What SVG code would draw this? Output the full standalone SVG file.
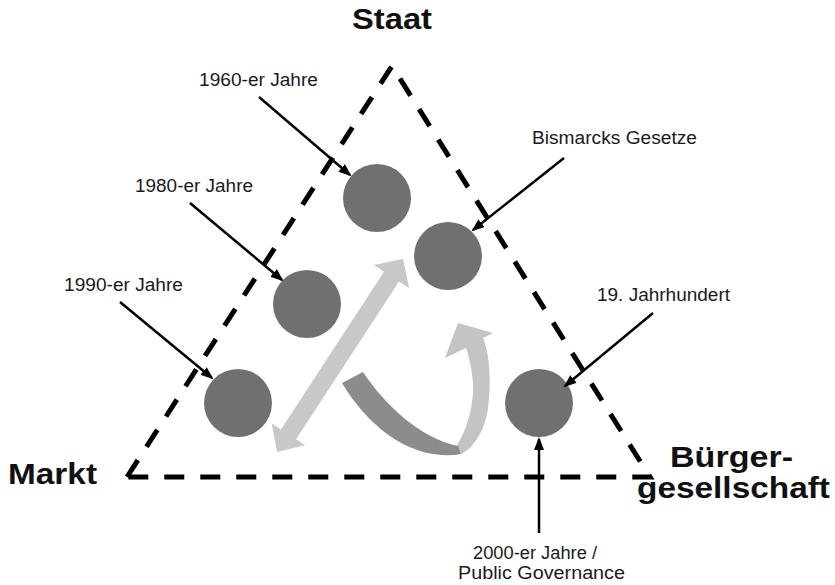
<svg xmlns="http://www.w3.org/2000/svg" width="835" height="585" viewBox="0 0 835 585">
<style>
.lbl{font-family:"Liberation Sans",Arial,sans-serif;font-size:17.5px;fill:#1a1a1a}
.big{font-family:"Liberation Sans",Arial,sans-serif;font-size:29px;font-weight:bold;fill:#111}
.dot{fill:#707070}
.lead{stroke:#000;stroke-width:2.5;fill:none;marker-end:url(#ah)}
.tri{stroke:#000;stroke-width:5;fill:none;stroke-dasharray:20 16}
</style>
<defs>
<marker id="ah" markerUnits="userSpaceOnUse" markerWidth="13" markerHeight="10" refX="11" refY="5" orient="auto">
<path d="M0,0 L13,5 L0,10 z" fill="#000"/>
</marker>
</defs>
<rect width="835" height="585" fill="#fff"/>
<g id="triangle">
<path class="tri" d="M127,477 L392,66 L650,477 Z"/>
</g>
<g id="arrows">
<polygon fill="#c8c8c8" transform="translate(277,452) rotate(-56.86)" points="0,0 21,-20 21,-9 209.5,-9 209.5,-21 230.5,0 209.5,21 209.5,9 21,9 21,20"/>
<path fill="#c4c4c4" d="M457,445 C467,430 474,405 473,383 C472,370 469,357 466,348 L445,358 L458,323 L493,333 L483,338 C489,352 492,380 488,408 C485,430 474,448 461,454 Z"/>
<path fill="#8c8c8c" d="M342,383 L363,372 C385,405 420,438 458,446 L461,454 C415,462 370,430 342,383 Z"/>
</g>
<g id="axis-labels">
<text class="big" x="352" y="29" textLength="80" lengthAdjust="spacingAndGlyphs">Staat</text>
<text class="big" x="8" y="484" textLength="89" lengthAdjust="spacingAndGlyphs">Markt</text>
<text class="big" x="670" y="467" textLength="123" lengthAdjust="spacingAndGlyphs">Bürger-</text>
<text class="big" x="637" y="498" textLength="193" lengthAdjust="spacingAndGlyphs">gesellschaft</text>
</g>
<g id="node-1960">
<circle class="dot" cx="377" cy="198" r="34"/>
<text class="lbl" x="199" y="86" textLength="119" lengthAdjust="spacingAndGlyphs">1960-er Jahre</text>
</g>
<g id="node-bismarck">
<circle class="dot" cx="448" cy="256" r="34"/>
<text class="lbl" x="532" y="144" textLength="165" lengthAdjust="spacingAndGlyphs">Bismarcks Gesetze</text>
</g>
<g id="node-1980">
<circle class="dot" cx="307" cy="304" r="34"/>
<text class="lbl" x="135" y="192" textLength="118" lengthAdjust="spacingAndGlyphs">1980-er Jahre</text>
</g>
<g id="node-1990">
<circle class="dot" cx="238" cy="403" r="34"/>
<text class="lbl" x="64" y="291" textLength="119" lengthAdjust="spacingAndGlyphs">1990-er Jahre</text>
</g>
<g id="node-19jh">
<circle class="dot" cx="539" cy="403" r="34"/>
<text class="lbl" x="597" y="301" textLength="133" lengthAdjust="spacingAndGlyphs">19. Jahrhundert</text>
</g>
<g id="node-2000">
<text class="lbl" x="473" y="559" textLength="124" lengthAdjust="spacingAndGlyphs">2000-er Jahre /</text>
<text class="lbl" x="458" y="579" textLength="167" lengthAdjust="spacingAndGlyphs">Public Governance</text>
</g>
<g id="connectors">
<line class="lead" x1="259" y1="97" x2="350" y2="175"/>
<line class="lead" x1="564" y1="158" x2="473" y2="230"/>
<line class="lead" x1="190" y1="203" x2="282" y2="280"/>
<line class="lead" x1="120" y1="302" x2="212" y2="378"/>
<line class="lead" x1="653" y1="313" x2="565" y2="386"/>
<line class="lead" x1="539" y1="533" x2="539" y2="439"/>
</g>
</svg>
